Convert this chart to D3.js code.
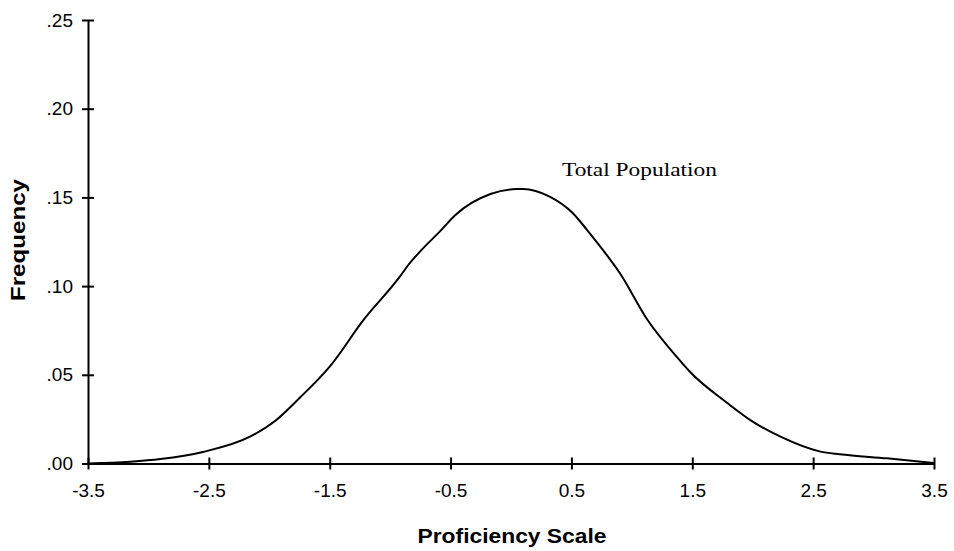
<!DOCTYPE html>
<html>
<head>
<meta charset="utf-8">
<script src="https://cdn.jsdelivr.net/npm/d3@7"></script>
<style>
  html, body { margin: 0; padding: 0; background: #fff; }
  svg { display: block; }
</style>
</head>
<body>
<svg id="chart" width="954" height="551"></svg>
<script>
// Data
const xValues = [-3.5, -3.15, -2.9, -2.55, -2.16, -1.95, -1.75, -1.5, -1.22, -0.92, -0.85, -0.74, -0.59, -0.46, -0.17, 0.05, 0.10, 0.32, 0.51, 0.63, 0.76, 0.90, 1.13, 1.37, 1.48, 1.79, 2.00, 2.23, 2.56, 2.72, 3.11, 3.5];
const frequency = [0.000, 0.001, 0.0025, 0.0065, 0.0151, 0.0241, 0.0369, 0.0546, 0.0809, 0.1053, 0.1119, 0.1204, 0.1307, 0.1401, 0.1519, 0.1547, 0.1547, 0.1504, 0.1412, 0.1316, 0.1204, 0.1074, 0.0809, 0.0602, 0.0517, 0.0341, 0.0236, 0.0151, 0.0067, 0.0052, 0.0029, 0.0003];
const xTicks = [-3.5, -2.5, -1.5, -0.5, 0.5, 1.5, 2.5, 3.5];
const xTickLabels = ["-3.5", "-2.5", "-1.5", "-0.5", "0.5", "1.5", "2.5", "3.5"];
const yTicks = [0, 0.05, 0.10, 0.15, 0.20, 0.25];
const yTickLabels = [".00", ".05", ".10", ".15", ".20", ".25"];
const seriesLabel = "Total Population";
const xTitle = "Proficiency Scale";
const yTitle = "Frequency";

(function () {
const svg = d3.select("#chart");
const mLeft = 88, mRight = 934, mTop = 20, mBottom = 463.5;

const x = d3.scaleLinear().domain([-3.5, 3.5]).range([mLeft, mRight]);
const y = d3.scaleLinear().domain([0, 0.25]).range([mBottom, mTop]);

const sans = "'Liberation Sans', Arial, sans-serif";

// X axis
const xAxis = svg.append("g").attr("transform", `translate(0,${mBottom})`)
  .call(d3.axisBottom(x).tickValues(xTicks).tickSizeInner(6).tickSizeOuter(0)
    .tickFormat((d, i) => xTickLabels[i]).tickPadding(14));
xAxis.select(".domain").attr("stroke", "#000").attr("stroke-width", 2);
xAxis.selectAll(".tick line").attr("y1", -6).attr("y2", 6).attr("stroke", "#000").attr("stroke-width", 2);
xAxis.selectAll(".tick text").attr("font-family", sans).attr("font-size", 19).attr("fill", "#000");

// Y axis
const yAxis = svg.append("g").attr("transform", `translate(${mLeft},0)`)
  .call(d3.axisLeft(y).tickValues(yTicks).tickSizeInner(6).tickSizeOuter(0)
    .tickFormat((d, i) => yTickLabels[i]).tickPadding(9));
yAxis.select(".domain").attr("stroke", "#000").attr("stroke-width", 2);
yAxis.selectAll(".tick line").attr("x1", -6).attr("x2", 6).attr("stroke", "#000").attr("stroke-width", 2);
yAxis.selectAll(".tick text").attr("font-family", sans).attr("font-size", 19).attr("fill", "#000");

// Curve
const pts = xValues.map((v, i) => [v, frequency[i]]);
svg.append("path")
  .datum(pts)
  .attr("fill", "none")
  .attr("stroke", "#000")
  .attr("stroke-width", 2)
  .attr("stroke-linejoin", "round")
  .attr("d", d3.line().x(d => x(d[0])).y(d => y(d[1])).curve(d3.curveMonotoneX));

// Series label
svg.append("text")
  .attr("x", 562).attr("y", 176)
  .attr("font-family", "'Liberation Serif', 'Times New Roman', serif")
  .attr("font-size", 19)
  .attr("textLength", 155)
  .attr("lengthAdjust", "spacingAndGlyphs")
  .attr("fill", "#000")
  .text(seriesLabel);

// Axis titles
svg.append("text")
  .attr("x", 512).attr("y", 543)
  .attr("text-anchor", "middle")
  .attr("font-family", sans).attr("font-weight", "bold").attr("font-size", 21)
  .attr("textLength", 189)
  .attr("lengthAdjust", "spacingAndGlyphs")
  .attr("fill", "#000")
  .text(xTitle);

svg.append("text")
  .attr("transform", "translate(25,240) rotate(-90)")
  .attr("text-anchor", "middle")
  .attr("font-family", sans).attr("font-weight", "bold").attr("font-size", 20)
  .attr("textLength", 122)
  .attr("lengthAdjust", "spacingAndGlyphs")
  .attr("fill", "#000")
  .text(yTitle);
})();
</script>
</body>
</html>
